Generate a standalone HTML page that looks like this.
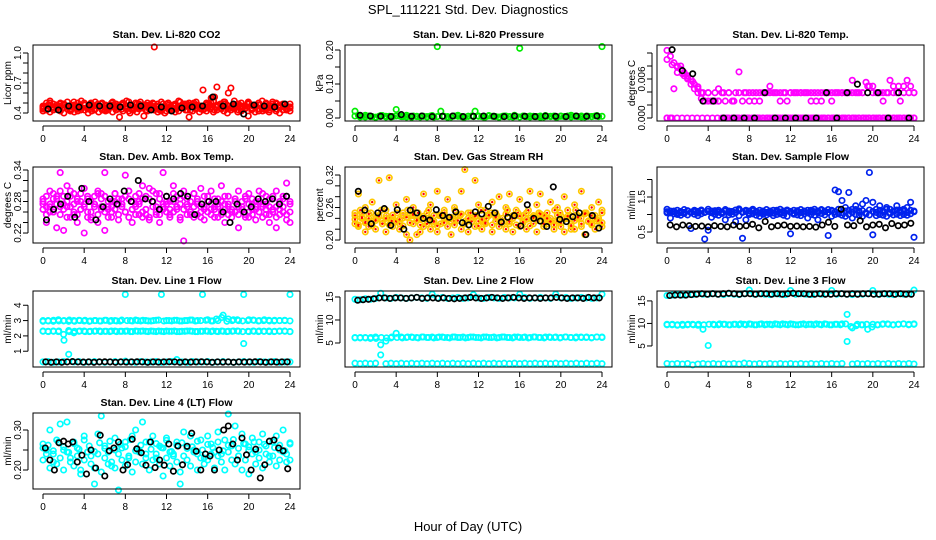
<!DOCTYPE html>
<html><head><meta charset="utf-8"><style>
body{margin:0;background:#fff;}
svg{display:block;font-family:"Liberation Sans",Arial,sans-serif;}
</style></head><body>
<svg id="chart" width="936" height="540" viewBox="0 0 936 540">
<text x="468" y="14" text-anchor="middle" font-size="13">SPL_111221  Std. Dev. Diagnostics</text>
<text x="468" y="531" text-anchor="middle" font-size="13">Hour of Day (UTC)</text>
</svg>
<script>
const xTicks=[0,4,8,12,16,20,24];
// CO2
const co2RedA=[0.47,0.50,0.52,0.49,0.46,0.50,0.48,0.51,0.47,0.45,0.50,0.52,0.48,0.46,0.49,0.51,0.47,0.50,0.48,0.46,0.51,0.49,0.47,0.50,0.52,0.48,0.45,0.49,0.51,0.47,0.50,0.48,1.06,0.49,0.51,0.47,0.50,0.46,0.49,0.52,0.48,0.47,0.50,0.49,0.51,0.47,0.63,0.50,0.48,0.52,0.66,0.49,0.51,0.47,0.65,0.52,0.49,0.50,0.47,0.51,0.48,0.46,0.50,0.52,0.49,0.47,0.51,0.50,0.48,0.49,0.47,0.46];
const co2RedB=[0.42,0.44,0.41,0.43,0.45,0.42,0.40,0.44,0.43,0.41,0.42,0.45,0.43,0.40,0.42,0.44,0.41,0.43,0.42,0.45,0.41,0.43,0.36,0.42,0.44,0.40,0.43,0.41,0.45,0.37,0.42,0.44,0.43,0.41,0.42,0.40,0.44,0.43,0.41,0.42,0.45,0.43,0.36,0.42,0.44,0.41,0.43,0.42,0.44,0.41,0.43,0.45,0.42,0.40,0.43,0.44,0.41,0.42,0.44,0.37,0.43,0.41,0.42,0.44,0.43,0.41,0.45,0.42,0.40,0.43,0.44,0.42];
const co2RedC=[0.46,0.48,0.45,0.47,0.49,0.46,0.47,0.45,0.48,0.46,0.47,0.49,0.45,0.47,0.46,0.48,0.47,0.45,0.46,0.48,0.47,0.49,0.46,0.45,0.48,0.47,0.46,0.49,0.47,0.45,0.46,0.48,0.55,0.46,0.47,0.48,0.45,0.47,0.46,0.49,0.47,0.48,0.46,0.45,0.47,0.48,0.46,0.49];
const co2RedD=[0.44,0.47,0.50,0.45,0.48,0.43,0.49,0.46,0.44,0.51,0.47,0.43,0.48,0.45,0.50,0.44,0.47,0.49,0.43,0.46,0.50,0.45,0.48,0.44,0.47,0.51,0.43,0.46,0.49,0.45,0.48,0.44,0.50,0.47,0.43,0.46,0.49,0.44,0.48,0.45,0.51,0.46,0.43,0.48,0.50,0.45,0.47,0.44,0.49,0.46,0.56,0.48,0.44,0.51,0.60,0.47,0.45,0.49,0.44,0.47,0.50,0.45,0.48,0.44,0.46,0.50,0.43,0.47,0.49,0.45,0.48,0.44,0.46];
const co2RedE=[0.45,0.43,0.48,0.46,0.44,0.49,0.45,0.47,0.42,0.48,0.44,0.46,0.50,0.44,0.47,0.43,0.49,0.45,0.47,0.43,0.48,0.46,0.44,0.49,0.45,0.42,0.47,0.50,0.44,0.46,0.43,0.48,0.45,0.47,0.44,0.49,0.42,0.46,0.48,0.44,0.47,0.45,0.49,0.43,0.46,0.48,0.44,0.47,0.45,0.50,0.43,0.47,0.45,0.49,0.44,0.46,0.48,0.43,0.47,0.45,0.49,0.44,0.46,0.48,0.42,0.47,0.45,0.49,0.44,0.46,0.48,0.43,0.45];
const co2Black=[0.44,0.43,0.47,0.46,0.48,0.47,0.47,0.46,0.48,0.47,0.43,0.46,0.42,0.45,0.46,0.47,0.56,0.47,0.49,0.39,0.48,0.47,0.46,0.49];
// Pressure
const presGreen=[0.020,0.008,0.005,0.003,0.006,0.004,0.002,0.005,0.007,0.003,0.005,0.004,0.025,0.006,0.004,0.003,0.005,0.006,0.004,0.003,0.005,0.004,0.006,0.003,0.210,0.020,0.005,0.004,0.003,0.006,0.005,0.004,0.003,0.005,0.006,0.020,0.005,0.004,0.003,0.006,0.005,0.004,0.003,0.005,0.006,0.004,0.003,0.005,0.205,0.006,0.004,0.003,0.005,0.004,0.006,0.003,0.005,0.004,0.006,0.003,0.005,0.004,0.006,0.003,0.005,0.004,0.006,0.003,0.005,0.004,0.006,0.004,0.210];
const presGreenB=[0.006,0.003,0.008,0.004,0.002,0.007,0.005,0.003,0.006,0.004,0.008,0.002,0.005,0.006,0.003,0.007,0.004,0.005,0.002,0.006,0.008,0.003,0.005,0.004,0.006,0.003,0.007,0.005,0.002,0.006,0.004,0.008,0.003,0.005,0.006,0.004,0.002,0.007,0.005,0.003,0.006,0.004,0.008,0.005,0.003,0.006,0.004,0.007,0.005];
const presBlack=[0.008,0.006,0.005,0.004,0.010,0.005,0.006,0.004,0.005,0.006,0.004,0.005,0.006,0.005,0.004,0.006,0.005,0.004,0.006,0.005,0.004,0.006,0.005,0.006];
// Li-820 temp
const tempMagA=[0.0104,0.0095,0.0085,0.0080,0.0075,0.0070,0.0065,0.0060,0.0052,0.0045,0.0039,0.0026,0.0039,0.0026,0.0039,0.0045,0.0039,0.0026,0.0039,0.0026,0.0039,0.0071,0.0026,0.0039,0.0026,0.0039,0.0039,0.0026,0.0039,0.0039,0.0049,0.0039,0.0039,0.0039,0.0039,0.0026,0.0039,0.0039,0.0039,0.0039,0.0039,0.0039,0.0026,0.0039,0.0039,0.0026,0.0039,0.0039,0.0026,0.0039,0.0039,0.0039,0.0039,0.0039,0.0058,0.0039,0.0039,0.0039,0.0055,0.0049,0.0039,0.0039,0.0039,0.0026,0.0039,0.0058,0.0049,0.0039,0.0026,0.0049,0.0058,0.0049,0.0039];
const tempMagB=[0,0,0.0045,0.0070,0.0080,0.0065,0.0060,0.0052,0.0045,0.0039,0.0030,0.0026,0.0026,0.0026,0.0026,0.0026,0,0,0,0,0,0,0,0,0,0,0,0,0,0,0,0,0,0,0,0,0,0,0,0,0,0,0,0,0,0,0,0,0,0,0,0,0,0,0,0,0,0,0,0,0,0,0,0,0,0,0,0,0,0,0,0,0];
const tempMagC=[0,0,0,0,0,0,0,0,0,0,0,0,0,0,0,0,0,0,0,0,0,0,0,0,0,0,0,0,0,0,0,0,0,0,0,0,0,0,0,0,0,0,0,0,0,0,0,0,0,0];
const tempMagD=[0.0090,0.0082,0.0078,0.0068,0.0062,0.0056,0.0048,0.0039,0.0039,0.0026,0.0026,0.0039,0.0039,0.0026,0.0039,0.0039,0.0039,0.0026,0.0039,0.0039,0.0039,0.0039,0.0026,0.0039,0.0039,0.0039,0.0039,0.0039,0.0039,0.0026,0.0039,0.0039,0.0039,0.0039,0.0039,0.0039,0.0039,0.0039,0.0039,0.0049,0.0049,0.0039,0.0039,0.0039,0.0039,0.0049,0.0039,0.0039,0.0039];
const tempBlack=[0.0105,0.0073,0.0068,0.0026,0.0026,0,0,0,0,0.0039,0,0,0,0,0,0.0039,0,0.0039,0.0052,0.0039,0.0039,0,0.0039,0];
// Amb box temp
const ambMagA=[0.285,0.270,0.300,0.260,0.290,0.335,0.275,0.310,0.250,0.295,0.280,0.265,0.305,0.285,0.245,0.290,0.300,0.270,0.335,0.280,0.260,0.295,0.285,0.275,0.330,0.300,0.265,0.290,0.280,0.310,0.255,0.285,0.300,0.270,0.295,0.335,0.280,0.265,0.310,0.290,0.275,0.300,0.285,0.260,0.295,0.280,0.305,0.270,0.290,0.300,0.265,0.285,0.310,0.275,0.290,0.260,0.280,0.300,0.270,0.285,0.295,0.265,0.280,0.300,0.275,0.290,0.270,0.285,0.300,0.275,0.290,0.315,0.280];
const ambMagB=[0.275,0.240,0.260,0.285,0.230,0.300,0.225,0.270,0.290,0.255,0.240,0.280,0.220,0.260,0.250,0.275,0.240,0.295,0.225,0.265,0.250,0.280,0.245,0.270,0.260,0.285,0.240,0.255,0.275,0.250,0.265,0.245,0.280,0.255,0.240,0.270,0.260,0.250,0.280,0.265,0.245,0.205,0.270,0.255,0.250,0.275,0.260,0.245,0.280,0.265,0.250,0.275,0.255,0.240,0.270,0.260,0.285,0.230,0.265,0.255,0.250,0.275,0.245,0.260,0.270,0.255,0.240,0.265,0.230,0.255,0.270,0.245,0.240];
const ambMagC=[0.280,0.290,0.275,0.295,0.285,0.270,0.290,0.280,0.300,0.275,0.285,0.295,0.270,0.290,0.280,0.275,0.295,0.285,0.290,0.270,0.280,0.295,0.275,0.285,0.290,0.300,0.280,0.275,0.295,0.285,0.290,0.305,0.280,0.295,0.285,0.275,0.290,0.280,0.295,0.270,0.285,0.290,0.275,0.280,0.295,0.285,0.270,0.290,0.280,0.275,0.285,0.270,0.280,0.290,0.275,0.265,0.285,0.270,0.280,0.290,0.275,0.285,0.270,0.280,0.295,0.275,0.285,0.290,0.270,0.280,0.285,0.290,0.275];
const ambMagD=[0.265,0.255,0.270,0.260,0.275,0.255,0.265,0.250,0.270,0.260,0.255,0.265,0.275,0.250,0.260,0.270,0.255,0.265,0.260,0.250,0.270,0.265,0.255,0.275,0.260,0.250,0.265,0.270,0.255,0.260,0.265,0.250,0.270,0.260,0.255,0.265,0.275,0.255,0.260,0.270,0.250,0.265,0.255,0.260,0.270,0.255,0.250,0.265,0.260,0.255,0.270,0.250,0.260,0.265,0.255,0.250,0.260,0.255,0.265,0.250,0.260,0.255,0.265,0.260,0.250,0.265,0.255,0.260,0.250,0.265,0.260,0.255,0.260];
const ambBlack=[0.245,0.265,0.275,0.290,0.250,0.305,0.280,0.245,0.270,0.285,0.275,0.300,0.280,0.320,0.285,0.280,0.265,0.290,0.285,0.295,0.290,0.255,0.275,0.280,0.280,0.260,0.240,0.275,0.260,0.270,0.285,0.280,0.285,0.275,0.290];
// Gas stream RH
const rhOrA=[0.250,0.285,0.240,0.260,0.225,0.270,0.245,0.310,0.235,0.255,0.315,0.240,0.265,0.230,0.250,0.275,0.245,0.260,0.210,0.240,0.285,0.250,0.265,0.230,0.290,0.245,0.255,0.275,0.235,0.260,0.245,0.290,0.330,0.250,0.240,0.310,0.265,0.235,0.255,0.245,0.270,0.250,0.280,0.240,0.260,0.285,0.245,0.255,0.275,0.235,0.250,0.290,0.245,0.265,0.285,0.240,0.250,0.270,0.235,0.260,0.245,0.280,0.255,0.220,0.265,0.240,0.290,0.250,0.235,0.260,0.245,0.270,0.255];
const rhOrB=[0.230,0.225,0.250,0.215,0.240,0.235,0.220,0.245,0.230,0.215,0.240,0.225,0.235,0.220,0.245,0.210,0.200,0.230,0.240,0.215,0.225,0.235,0.220,0.245,0.215,0.230,0.240,0.225,0.210,0.235,0.245,0.220,0.230,0.215,0.240,0.225,0.235,0.220,0.230,0.245,0.215,0.235,0.225,0.240,0.220,0.230,0.215,0.245,0.225,0.235,0.220,0.240,0.230,0.215,0.245,0.225,0.230,0.240,0.220,0.235,0.225,0.215,0.240,0.230,0.220,0.245,0.225,0.210,0.235,0.230,0.220,0.240,0.225];
const rhOrC=[0.245,0.255,0.235,0.250,0.240,0.255,0.245,0.235,0.250,0.240,0.255,0.245,0.250,0.240,0.255,0.235,0.245,0.250,0.240,0.255,0.245,0.235,0.250,0.245,0.255,0.240,0.250,0.245,0.235,0.255,0.240,0.250,0.245,0.255,0.240,0.250,0.245,0.235,0.255,0.250,0.240,0.245,0.255,0.240,0.250,0.245,0.235,0.250];
const rhOrD=[0.238,0.228,0.242,0.232,0.248,0.226,0.236,0.244,0.230,0.240,0.228,0.246,0.234,0.238,0.226,0.242,0.232,0.248,0.236,0.228,0.244,0.230,0.240,0.234,0.226,0.246,0.232,0.238,0.242,0.228,0.236,0.248,0.230,0.240,0.234,0.244,0.226,0.238,0.232,0.246,0.228,0.242,0.236,0.230,0.248,0.234,0.240,0.228,0.244,0.232,0.238,0.226,0.242,0.236,0.248,0.230,0.240,0.234,0.228,0.246,0.232,0.238,0.244,0.226,0.236,0.242,0.230,0.248,0.234,0.228,0.240,0.236,0.232];
const rhBlack=[0.290,0.255,0.230,0.250,0.258,0.227,0.256,0.220,0.255,0.250,0.240,0.237,0.256,0.245,0.242,0.252,0.232,0.228,0.252,0.248,0.262,0.250,0.233,0.242,0.245,0.226,0.265,0.240,0.235,0.225,0.298,0.238,0.234,0.243,0.250,0.210,0.245,0.222];
// Sample flow
const sfBlueA=[1.15,1.10,1.08,1.12,1.05,1.14,1.10,1.07,1.12,1.09,1.13,1.06,1.15,1.10,1.08,1.12,1.07,1.14,1.10,1.09,1.13,1.16,1.08,1.12,1.10,1.15,1.09,1.12,1.07,1.14,1.10,1.12,1.08,1.15,1.10,1.13,1.09,1.12,1.08,1.14,1.10,1.12,1.07,1.15,1.10,1.12,1.08,1.14,1.10,1.70,1.65,1.40,1.20,1.63,1.15,1.25,1.10,1.30,1.40,2.20,1.35,1.15,1.25,1.10,1.20,1.15,1.10,1.25,1.12,1.15,1.20,1.35,1.10];
const sfBlueB=[1.05,0.90,1.02,1.00,0.98,1.03,0.99,0.60,1.01,0.97,1.02,0.30,0.55,0.92,1.00,0.98,1.03,0.85,0.99,1.01,0.80,0.97,0.32,0.85,1.00,1.02,0.98,0.95,1.01,0.99,1.03,0.97,1.00,1.02,0.98,0.95,0.45,1.01,0.99,0.97,1.02,0.90,1.00,0.98,0.85,1.03,0.99,0.40,0.95,1.00,1.02,0.98,0.95,1.01,0.90,1.00,0.98,0.95,1.02,0.99,0.42,0.97,1.00,0.98,0.95,1.03,0.99,1.01,0.97,1.00,0.98,1.02,0.35];
const sfBlueC=[1.08,1.05,1.10,1.04,1.09,1.06,1.11,1.05,1.08,1.04,1.10,1.06,1.09,1.05,1.11,1.07,1.04,1.10,1.06,1.08,1.05,1.12,1.06,1.09,1.04,1.11,1.07,1.05,1.10,1.06,1.09,1.04,1.12,1.07,1.05,1.10,1.08,1.04,1.11,1.06,1.09,1.05,1.12,1.08,1.05,1.14,1.10,1.06,1.12,1.08,1.15,1.05,1.10,1.12,1.06,1.14,1.08,1.11,1.05,1.13,1.09,1.06,1.12,1.08,1.15,1.05,1.10,1.13,1.07,1.11,1.06,1.12,1.08];
const sfBlack=[0.70,0.65,0.70,0.68,0.66,0.67,0.65,0.68,0.66,0.65,0.70,0.66,0.68,0.72,0.62,0.80,0.65,0.68,0.70,0.66,0.67,0.65,0.66,0.64,0.70,0.78,0.66,1.15,0.70,0.68,0.82,0.65,0.70,0.72,0.62,0.74,0.68,0.70,0.75];
// Line 1 flow
const l1Top=[2.95,3.00,2.95,3.05,2.98,2.95,3.00,3.02,2.97,2.95,3.00,2.98,3.02,2.96,3.00,2.97,4.70,3.00,3.03,2.98,3.00,2.97,3.02,4.70,3.00,2.98,3.02,2.97,3.00,3.03,3.00,4.70,3.05,2.98,3.00,3.35,3.10,3.05,3.00,4.70,3.05,3.02,3.00,3.05,2.98,3.02,3.00,3.00,4.70];
const l1TopB=[3.00,2.97,3.02,2.98,3.00,3.03,2.96,3.00,3.02,2.98,3.00,2.97,3.02,3.00,2.98,3.03,3.00,2.97,3.00,3.02,2.98,3.00,3.03,2.97,3.00,3.02,2.98,3.00,3.03,2.97,3.00,3.02,2.98,3.10,3.20,2.95,3.00,3.05,2.98,3.00,3.03,2.97,3.00,3.02,2.98,3.00,3.02,2.98];
const l1Mid=[2.30,2.30,2.32,2.28,2.10,2.35,2.20,2.30,2.32,2.28,2.30,2.32,2.30,2.28,2.32,2.30,2.30,2.28,2.32,2.30,2.30,2.32,2.28,2.30,2.32,2.30,2.28,2.30,2.32,2.30,2.28,2.30,2.30,2.32,2.28,2.30,2.30,2.32,2.30,1.50,2.28,2.30,2.32,2.30,2.28,2.30,2.32,2.30,2.28];
const l1MidB=[2.32,2.28,2.30,2.32,1.72,2.28,2.30,2.32,2.28,2.30,2.32,2.28,2.30,2.32,2.28,2.30,2.32,2.28,2.30,2.32,2.28,2.30,2.32,2.28,2.30,2.32,2.28,2.30,2.32,2.28,2.30,2.32,2.28,2.30,2.32,2.28,2.30,2.32,2.28,2.30,2.32,2.28,2.30,2.32,2.28,2.30,2.32,2.28];
const l1Low=[0.30,0.32,0.28,0.30,0.32,0.80,0.30,0.32,0.28,0.30,0.32,0.30,0.28,0.30,0.32,0.30,0.35,0.30,0.28,0.32,0.30,0.30,0.32,0.28,0.30,0.32,0.45,0.30,0.28,0.32,0.30,0.30,0.32,0.28,0.30,0.32,0.30,0.28,0.30,0.32,0.30,0.28,0.32,0.30,0.30,0.32,0.28,0.30,0.30];
const l1Black=[0.30,0.28,0.30,0.28,0.30,0.32,0.30,0.29,0.30,0.28,0.30,0.31,0.30,0.28,0.30,0.29,0.30,0.31,0.30,0.28,0.30,0.29,0.30,0.31,0.30,0.28,0.30,0.29,0.30,0.31,0.30,0.28,0.30,0.29,0.30,0.28,0.30,0.29,0.30,0.31,0.30,0.28,0.30,0.29,0.30,0.30];
// Line 2 flow
const l2Top=[14.5,14.4,14.6,14.5,14.7,15.8,14.8,14.7,14.9,14.8,14.7,14.8,14.9,14.8,14.7,15.6,14.8,14.9,14.7,14.8,14.9,14.7,14.8,15.5,14.8,14.7,14.9,14.8,14.7,14.9,14.8,14.8,15.6,14.9,14.7,14.8,14.9,14.8,14.7,15.6,14.8,14.9,14.7,14.8,14.9,14.8,14.7,14.8,15.6];
const l2Mid=[6.2,6.1,6.2,6.0,6.3,4.6,5.4,6.1,7.1,6.3,6.2,6.3,6.2,6.3,6.2,6.3,6.2,6.3,6.2,6.3,6.2,6.3,6.2,6.3,6.2,6.3,6.2,6.3,6.2,6.3,6.2,6.3,6.2,6.3,6.2,6.3,6.2,6.3,6.2,6.3,6.2,6.3,6.2,6.3,6.2,6.3,6.2,6.3,6.3];
const l2MidB=[6.1,6.2,6.1,6.2,6.0,6.2,6.1,6.3,6.2,6.1,6.3,6.2,6.1,6.3,6.2,6.1,6.3,6.2,6.1,6.3,6.2,6.1,6.3,6.2,6.1,6.3,6.2,6.1,6.3,6.2,6.1,6.3,6.2,6.1,6.3,6.2,6.1,6.3,6.2,6.1,6.3,6.2,6.1,6.3,6.2,6.1,6.3,6.2];
const l2Low=[0.6,0.5,0.6,0.5,0.6,2.4,0.5,0.6,0.5,0.6,0.5,0.6,0.5,0.6,0.5,0.6,0.5,0.6,0.5,0.6,0.5,0.6,0.5,0.6,0.5,0.6,0.5,0.6,0.5,0.6,0.5,0.6,0.5,0.6,0.5,0.6,0.5,0.6,0.5,0.6,0.5,0.6,0.5,0.6,0.5,0.6,0.5,0.6,0.5];
const l2Black=[14.3,14.4,14.5,14.6,14.8,14.8,14.7,14.8,14.8,14.7,14.8,14.9,14.7,14.8,14.8,14.7,14.8,14.7,14.6,14.7,14.8,14.9,14.8,14.7,14.8,14.9,14.8,14.7,14.8,14.9,14.8,14.7,14.8,14.8,14.7,14.8,14.8,14.9,14.8,14.7,14.8,14.8,14.7,14.9,14.8,14.8];
// Line 3 flow
const l3Top=[16.2,16.3,16.4,16.3,16.5,16.4,16.6,16.5,16.5,16.6,16.5,16.4,16.6,16.5,16.4,16.6,17.4,16.5,16.6,16.5,16.4,16.6,16.5,16.4,17.3,16.5,16.6,16.5,16.4,16.6,16.5,16.6,17.3,16.5,16.6,16.5,16.4,16.6,16.5,16.6,17.3,16.5,16.6,16.5,16.4,16.6,16.5,16.6,17.4];
const l3Mid=[9.8,9.7,9.6,9.8,9.7,9.8,9.6,8.7,5.1,9.8,9.7,9.8,9.7,9.8,9.7,9.8,9.9,9.7,9.8,9.7,9.8,9.9,9.7,9.8,9.9,9.7,9.8,9.7,9.8,9.9,9.7,9.8,9.7,9.8,9.9,12.0,9.0,9.8,9.7,8.7,9.8,9.7,9.9,9.8,9.7,9.8,9.9,9.8,9.9];
const l3MidB=[9.7,9.8,9.7,9.6,9.8,9.7,9.8,9.7,9.8,9.7,9.9,9.8,9.7,9.8,9.9,9.7,9.8,9.7,9.9,9.8,9.7,9.8,9.9,9.7,9.8,9.7,9.9,9.8,9.7,9.8,9.9,9.7,9.8,9.7,9.9,9.3,9.5,9.7,9.8,9.2,9.7,9.8,9.9,9.7,9.8,9.9,9.7,9.8];
const l3Low=[1.1,1.0,1.1,1.0,1.1,0.8,1.0,1.1,1.0,1.1,1.0,1.1,1.0,1.1,1.0,1.2,1.1,1.0,1.1,1.0,1.1,1.0,1.1,1.0,1.1,1.0,1.1,1.0,1.1,1.0,1.1,1.0,1.1,1.0,1.1,6.0,1.0,1.1,1.0,1.1,1.0,1.1,1.0,1.1,1.0,1.1,1.0,1.1,1.0];
const l3Black=[16.2,16.3,16.3,16.3,16.4,16.5,16.6,16.5,16.6,16.5,16.6,16.7,16.6,16.5,16.6,16.6,16.5,16.6,16.6,16.5,16.6,16.5,16.6,16.7,16.6,16.6,16.5,16.5,16.6,16.5,16.5,16.6,16.6,16.5,16.6,16.5,16.6,16.6,16.5,16.5,16.6,16.6,16.5,16.6,16.5,16.5];
// Line 4 flow
const l4CyA=[0.265,0.240,0.300,0.220,0.275,0.315,0.250,0.320,0.230,0.270,0.255,0.200,0.285,0.245,0.235,0.165,0.290,0.335,0.260,0.245,0.210,0.280,0.150,0.255,0.270,0.230,0.285,0.300,0.250,0.320,0.240,0.270,0.285,0.230,0.260,0.255,0.280,0.245,0.235,0.270,0.165,0.295,0.260,0.285,0.250,0.240,0.275,0.230,0.285,0.265,0.245,0.295,0.240,0.275,0.340,0.260,0.310,0.235,0.290,0.265,0.250,0.280,0.245,0.270,0.290,0.260,0.235,0.270,0.285,0.250,0.300,0.240,0.265];
const l4CyB=[0.225,0.250,0.205,0.240,0.215,0.230,0.200,0.245,0.220,0.210,0.235,0.190,0.225,0.245,0.215,0.205,0.240,0.195,0.230,0.215,0.220,0.205,0.240,0.225,0.210,0.235,0.195,0.220,0.245,0.215,0.230,0.200,0.225,0.240,0.215,0.185,0.230,0.210,0.240,0.220,0.195,0.235,0.225,0.210,0.245,0.200,0.230,0.215,0.225,0.240,0.205,0.235,0.220,0.200,0.245,0.225,0.215,0.235,0.200,0.225,0.190,0.240,0.215,0.230,0.205,0.240,0.220,0.235,0.210,0.225,0.245,0.220,0.225];
const l4CyC=[0.255,0.262,0.248,0.270,0.258,0.244,0.266,0.252,0.275,0.260,0.246,0.268,0.254,0.272,0.250,0.264,0.258,0.276,0.248,0.262,0.270,0.252,0.266,0.256,0.274,0.246,0.262,0.268,0.254,0.258,0.272,0.250,0.264,0.256,0.270,0.248,0.262,0.276,0.254,0.266,0.258,0.270,0.250,0.264,0.272,0.256,0.262,0.248,0.268];
const l4Black=[0.255,0.225,0.200,0.268,0.272,0.265,0.270,0.220,0.237,0.190,0.250,0.205,0.287,0.185,0.248,0.255,0.270,0.200,0.213,0.277,0.253,0.243,0.212,0.270,0.206,0.225,0.212,0.265,0.197,0.260,0.213,0.259,0.292,0.247,0.200,0.240,0.235,0.200,0.250,0.300,0.310,0.265,0.225,0.280,0.238,0.200,0.252,0.180,0.213,0.272,0.275,0.255,0.248,0.203];

const svg=document.getElementById('chart');
const NS='http://www.w3.org/2000/svg';
function mk(tag,attrs,parent){const e=document.createElementNS(NS,tag);for(const k in attrs)e.setAttribute(k,attrs[k]);(parent||svg).appendChild(e);return e;}

function panel(col,row,title,ylab,ymin,ymax,yticks,ylabels,series,pname){
  const L=33+312*col,R=300+312*col,T=[45,167,291,413][row],B=T+76;
  const X0=L+10,X1=L+257;
  const sx=t=>X0+(X1-X0)*t/24;
  const sy=v=>B-(v-ymin)/(ymax-ymin)*(B-T);
  const g=mk('g',{});
  
  
  const tt=mk('text',{x:(L+R)/2,y:T-7,'text-anchor':'middle','font-size':'10.5','font-weight':'bold'},g);
  tt.textContent=title;
  
  
  const yl=mk('text',{x:0,y:0,'text-anchor':'middle','font-size':'10',transform:`translate(${L-22},${(T+B)/2}) rotate(-90)`},g);
  yl.textContent=ylab;
  
  
  const pts=mk('g',{},g);
  
  
  series.forEach(s=>{
    const n=s.data.length;
    s.data.forEach((v,i)=>{
      const t=s.black?(i+0.5)*24/n:i*24/(n-1);
      const c=mk('circle',{cx:sx(t).toFixed(1),cy:sy(v).toFixed(1),r:2.7,fill:'none',stroke:s.color,'stroke-width':1.7},pts);
      
      
      if(s.inner){mk('circle',{cx:sx(t).toFixed(1),cy:sy(v).toFixed(1),r:1.2,fill:s.inner,stroke:'none'},pts);}
    });
  });
  const box=mk('rect',{x:L,y:T,width:R-L,height:B-T,fill:'none',stroke:'#000','stroke-width':1},g);
  
  
  mk('line',{x1:sx(0),x2:sx(24),y1:B+5,y2:B+5,stroke:'#000'},g);
  xTicks.forEach(t=>{
    mk('line',{x1:sx(t),x2:sx(t),y1:B+5,y2:B+10,stroke:'#000'},g);
    const tx=mk('text',{x:sx(t),y:B+21,'text-anchor':'middle','font-size':'10'},g);
    tx.textContent=t;
    
    
  });
  mk('line',{x1:L-5,x2:L-5,y1:sy(yticks[0]),y2:sy(yticks[yticks.length-1]),stroke:'#000'},g);
  yticks.forEach(v=>mk('line',{x1:L-10,x2:L-5,y1:sy(v),y2:sy(v),stroke:'#000'},g));
  ylabels.forEach(v=>{
    const tx=mk('text',{x:0,y:0,'text-anchor':'middle','font-size':'10',transform:`translate(${L-12},${sy(parseFloat(v))}) rotate(-90)`},g);
    tx.textContent=v;
    
    
  });
}
const RED='#ff0000',GRN='#00ee00',MAG='#ff00ff',BLU='#0022ee',CY='#00ffff',BK='#000';
panel(0,0,'Stan. Dev. Li-820 CO2','Licor ppm',0.32,1.08,[0.4,0.5,0.6,0.7,0.8,0.9,1.0],['0.4','0.7','1.0'],
 [{data:co2RedA,color:RED},{data:co2RedB,color:RED},{data:co2RedC,color:RED},{data:co2RedD,color:RED},{data:co2RedE,color:RED},{data:co2Black,color:BK,black:1}],'co2-panel');
panel(1,0,'Stan. Dev. Li-820 Pressure','kPa',-0.0088,0.2147,[0,0.05,0.10,0.15,0.20],['0.00','0.10','0.20'],
 [{data:presGreen,color:GRN},{data:presGreenB,color:GRN},{data:presBlack,color:BK,black:1}],'pressure-panel');
panel(2,0,'Stan. Dev. Li-820 Temp.','degrees C',-0.00046,0.01123,[0,0.002,0.004,0.006,0.008,0.010],['0.000','0.006'],
 [{data:tempMagA,color:MAG},{data:tempMagB,color:MAG},{data:tempMagC,color:MAG},{data:tempMagD,color:MAG},{data:tempBlack,color:BK,black:1}],'li820-temp-panel');
panel(0,1,'Stan. Dev. Amb. Box Temp.','degrees C',0.201,0.3457,[0.22,0.24,0.26,0.28,0.30,0.32,0.34],['0.22','0.28','0.34'],
 [{data:ambMagA,color:MAG},{data:ambMagB,color:MAG},{data:ambMagC,color:MAG},{data:ambMagD,color:MAG},{data:ambBlack,color:BK,black:1}],'amb-box-temp-panel');
panel(1,1,'Stan. Dev. Gas Stream RH','percent',0.1945,0.3348,[0.20,0.22,0.24,0.26,0.28,0.30,0.32],['0.20','0.26','0.32'],
 [{data:rhOrA,color:'#ffc800',inner:RED},{data:rhOrB,color:'#ffc800',inner:RED},{data:rhOrC,color:'#ffc800',inner:RED},{data:rhOrD,color:'#ffc800',inner:RED},{data:rhBlack,color:BK,black:1}],'gas-stream-rh-panel');
panel(2,1,'Stan. Dev. Sample Flow','ml/min',0.186,2.357,[0.5,1.0,1.5,2.0],['0.5','1.5'],
 [{data:sfBlueA,color:BLU},{data:sfBlueB,color:BLU},{data:sfBlueC,color:BLU},{data:sfBlack,color:BK,black:1}],'sample-flow-panel');
panel(0,2,'Stan. Dev. Line 1 Flow','ml/min',-0.03,4.93,[1,2,3,4],['1','2','3','4'],
 [{data:l1Top,color:CY},{data:l1TopB,color:CY},{data:l1Mid,color:CY},{data:l1MidB,color:CY},{data:l1Low,color:CY},{data:l1Black,color:BK,black:1}],'line1-flow-panel');
panel(1,2,'Stan. Dev. Line 2 Flow','ml/min',-0.22,16.3,[5,10,15],['5','10','15'],
 [{data:l2Top,color:CY},{data:l2Mid,color:CY},{data:l2MidB,color:CY},{data:l2Low,color:CY},{data:l2Black,color:BK,black:1}],'line2-flow-panel');
panel(2,2,'Stan. Dev. Line 3 Flow','ml/min',0.33,17.2,[5,10,15],['5','10','15'],
 [{data:l3Top,color:CY},{data:l3Mid,color:CY},{data:l3MidB,color:CY},{data:l3Low,color:CY},{data:l3Black,color:BK,black:1}],'line3-flow-panel');
panel(0,3,'Stan. Dev. Line 4 (LT) Flow','ml/min',0.1525,0.3425,[0.20,0.25,0.30],['0.20','0.30'],
 [{data:l4CyA,color:CY},{data:l4CyB,color:CY},{data:l4CyC,color:CY},{data:l4Black,color:BK,black:1}],'line4-flow-panel');
</script>
</body></html>
